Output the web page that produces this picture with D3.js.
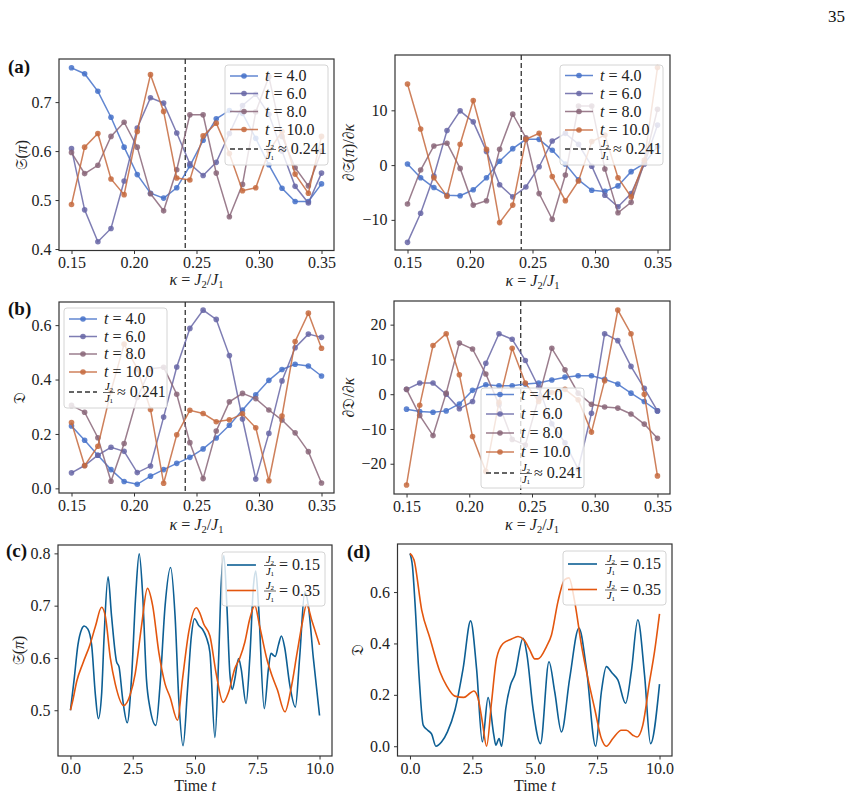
<!DOCTYPE html>
<html>
<head>
<meta charset="utf-8">
<script src="https://cdn.jsdelivr.net/npm/d3@7"></script>
<style>
body { margin: 0; background: #fff; }
</style>
</head>
<body>
<script>
// kappa grid (J2/J1) and marker of the critical point
const kappa = [0.1500,0.1605,0.1711,0.1816,0.1921,0.2026,0.2132,0.2237,0.2342,0.2447,
               0.2553,0.2658,0.2763,0.2868,0.2974,0.3079,0.3184,0.3289,0.3395,0.3500];
const kappaCrit = 0.241;
const tLabels = ["4.0", "6.0", "8.0", "10.0"];
const tColors = ["#4571c9", "#6766a6", "#8a6679", "#c66a3e"];

// (a) left: S(pi) vs kappa
const sigT4  = [0.770,0.758,0.722,0.669,0.608,0.552,0.514,0.504,0.525,0.570,0.622,0.666,0.683,0.677,0.626,0.572,0.524,0.497,0.497,0.533];
const sigT6  = [0.605,0.480,0.415,0.442,0.539,0.647,0.709,0.698,0.637,0.574,0.550,0.577,0.636,0.693,0.716,0.675,0.600,0.528,0.494,0.555];
const sigT8  = [0.597,0.554,0.571,0.630,0.659,0.608,0.513,0.478,0.562,0.674,0.674,0.555,0.466,0.532,0.680,0.752,0.630,0.566,0.529,0.600];
const sigT10 = [0.491,0.608,0.636,0.543,0.511,0.640,0.756,0.681,0.545,0.541,0.631,0.657,0.595,0.519,0.525,0.600,0.640,0.553,0.514,0.630];

// (a) right: dS/dkappa
const dSigT4  = [0.2,-2.3,-4.1,-5.5,-5.6,-4.5,-2.3,0.7,3.0,4.7,4.7,2.7,0.2,-2.7,-4.6,-4.8,-3.8,-1.2,0.3,3.4];
const dSigT6  = [-14.1,-8.8,-2.0,6.3,9.9,7.9,2.5,-3.6,-5.8,-4.0,-0.3,4.4,5.8,3.8,-0.2,-5.5,-7.6,-5.2,0.2,7.3];
const dSigT8  = [-7.1,-0.9,3.5,4.0,-0.6,-7.3,-6.5,2.9,9.3,5.0,-5.2,-9.9,-1.8,10.8,10.8,-0.7,-8.7,-6.8,0.5,10.2];
const dSigT10 = [14.8,6.6,-2.3,-5.7,3.8,11.8,2.9,-10.5,-7.3,4.7,5.8,-2.1,-6.5,-2.9,4.3,5.5,-2.3,-5.8,0.9,17.8];

// (b) left: D vs kappa
const dimT4  = [0.229,0.177,0.122,0.069,0.025,0.015,0.045,0.069,0.092,0.114,0.145,0.185,0.232,0.288,0.344,0.397,0.437,0.456,0.450,0.413];
const dimT6  = [0.057,0.084,0.122,0.151,0.136,0.058,0.082,0.262,0.446,0.588,0.655,0.621,0.488,0.255,0.034,0.202,0.395,0.517,0.567,0.555];
const dimT8  = [0.305,0.280,0.186,0.026,0.165,0.334,0.440,0.445,0.346,0.168,0.036,0.211,0.318,0.349,0.330,0.288,0.251,0.204,0.135,0.020];
const dimT10 = [0.242,0.083,0.155,0.358,0.530,0.440,0.290,0.019,0.197,0.287,0.275,0.245,0.252,0.274,0.223,0.028,0.266,0.540,0.644,0.515];

// (b) right: dD/dkappa
const dDimT4  = [-4.3,-5.0,-5.2,-4.8,-2.8,1.1,2.7,2.4,2.4,2.9,3.2,4.1,4.9,5.3,5.3,4.3,2.9,0.3,-2.1,-4.8];
const dDimT6  = [1.4,3.2,3.2,0.0,-4.2,-2.1,8.9,17.4,15.8,9.7,2.0,-8.5,-14.0,-21.5,-5.5,17.4,15.4,8.0,1.7,-4.8];
const dDimT8  = [1.4,-6.1,-11.9,0.3,14.7,13.0,5.8,-3.0,-13.0,-14.6,-1.0,13.2,7.0,0.3,-2.9,-3.7,-4.0,-5.7,-8.6,-12.7];
const dDimT10 = [-26.1,-3.2,14.0,17.4,5.6,-12.2,-22.2,-2.3,13.2,3.2,-2.1,0.5,1.4,-1.6,-10.9,3.9,24.2,17.4,0.0,-23.5];

// (c) S(pi) vs time, J2/J1 = 0.15 and 0.35
const cTime15 = [0,0.15,0.3,0.45,0.55,0.7,0.85,1.0,1.12,1.25,1.35,1.51,1.65,1.85,1.95,2.1,2.28,2.45,2.62,2.76,
                 2.9,3.05,3.19,3.43,3.6,3.8,4.02,4.2,4.35,4.52,4.7,4.85,4.98,5.15,5.3,5.45,5.6,5.8,5.95,6.05,
                 6.16,6.28,6.4,6.5,6.6,6.75,6.85,7.05,7.2,7.35,7.44,7.55,7.78,7.95,8.05,8.15,8.22,8.35,8.47,8.6,
                 8.8,9.03,9.2,9.41,9.55,9.75,10.0];
const cSig15  = [0.500,0.56,0.625,0.655,0.661,0.655,0.625,0.53,0.484,0.53,0.64,0.755,0.68,0.593,0.583,0.52,0.476,0.56,0.72,0.799,
                 0.72,0.56,0.505,0.471,0.55,0.70,0.773,0.68,0.52,0.432,0.54,0.64,0.675,0.662,0.655,0.64,0.61,0.448,0.60,0.74,
                 0.796,0.70,0.57,0.540,0.56,0.599,0.58,0.513,0.60,0.74,0.766,0.70,0.503,0.58,0.609,0.605,0.603,0.625,0.642,0.62,
                 0.55,0.506,0.60,0.727,0.70,0.60,0.490];
const cTime35 = [0,0.1,0.25,0.5,0.78,1.0,1.25,1.4,1.6,1.8,2.14,2.4,2.6,2.85,3.09,3.3,3.55,3.8,4.0,4.3,
                 4.5,4.75,5.05,5.2,5.35,5.6,5.85,6.13,6.35,6.6,6.8,7.0,7.2,7.4,7.6,7.9,8.1,8.3,8.61,8.85,
                 9.1,9.3,9.48,9.7,10.0];
const cSig35  = [0.500,0.52,0.555,0.59,0.625,0.66,0.697,0.68,0.60,0.55,0.509,0.53,0.57,0.66,0.733,0.70,0.61,0.55,0.525,0.481,
                 0.56,0.65,0.696,0.685,0.665,0.642,0.57,0.515,0.535,0.58,0.60,0.63,0.675,0.700,0.66,0.595,0.565,0.54,0.497,0.54,
                 0.61,0.665,0.702,0.67,0.625];

// (d) D vs time
const dTime15 = [0,0.1,0.2,0.37,0.53,0.7,0.87,1.04,1.27,1.5,1.8,2.13,2.43,2.67,2.9,3.13,3.36,3.44,3.57,3.67,
                 3.84,4.03,4.2,4.53,4.69,4.93,5.23,5.57,5.8,6.07,6.4,6.77,7.07,7.44,7.67,7.87,8.1,8.33,8.64,8.87,
                 9.13,9.4,9.64,10.0];
const dDim15  = [0.75,0.70,0.56,0.264,0.082,0.063,0.047,0.0,0.017,0.056,0.14,0.303,0.488,0.30,0.017,0.189,0.043,0.004,0.03,0.0,
                 0.147,0.238,0.277,0.42,0.355,0.147,0.01,0.329,0.212,0.056,0.264,0.46,0.303,0.0,0.212,0.31,0.285,0.258,0.167,0.29,
                 0.492,0.277,0.01,0.242];
const dTime35 = [0,0.16,0.47,0.8,1.2,1.47,1.8,2.16,2.4,2.56,2.73,2.9,3.07,3.27,3.47,3.73,4.07,4.33,4.57,4.8,
                 5.0,5.13,5.47,5.67,5.93,6.2,6.37,6.6,6.87,7.13,7.4,7.67,7.87,8.13,8.47,8.67,8.93,9.1,9.33,9.6,
                 9.8,10.0];
const dDim35  = [0.75,0.726,0.53,0.42,0.29,0.235,0.195,0.19,0.206,0.215,0.186,0.095,0.0,0.173,0.342,0.40,0.417,0.427,0.414,0.375,
                 0.34,0.34,0.388,0.433,0.563,0.648,0.655,0.563,0.394,0.264,0.147,0.03,0.0,0.03,0.062,0.062,0.043,0.036,0.082,0.251,
                 0.368,0.515];
const jLabels = ["0.15", "0.35"];
const jColors = ["#0d5f94", "#e3560e"];

// ---------------------------------------------------------------
const svg = d3.select("body").append("svg")
    .attr("width", 857).attr("height", 799)
    .style("font-family", "'Liberation Serif','DejaVu Serif',serif");

const FS = 16;
const minusFmt = f => d => (d < 0 ? "\u2212" : "") + d3.format(f)(Math.abs(d));

function makePanel(p) {
    const x = d3.scaleLinear().domain(p.xdom).range([p.left, p.right]);
    const y = d3.scaleLinear().domain(p.ydom).range([p.bottom, p.top]);
    const g = svg.append("g");

    const gx = g.append("g").attr("transform", "translate(0," + p.bottom + ")")
        .call(d3.axisBottom(x).tickValues(p.xticks).tickFormat(p.xfmt).tickSizeOuter(0).tickSizeInner(3.5).tickPadding(3));
    const gy = g.append("g").attr("transform", "translate(" + p.left + ",0)")
        .call(d3.axisLeft(y).tickValues(p.yticks).tickFormat(p.yfmt).tickSizeOuter(0).tickSizeInner(3.5).tickPadding(4));
    [gx, gy].forEach(a => {
        a.attr("font-family", null).attr("font-size", null);
        a.select(".domain").remove();
        a.selectAll("line").attr("stroke", "#333").attr("stroke-width", 1);
        a.selectAll("text").attr("font-size", FS).attr("fill", "#222");
    });

    const plot = g.append("g");
    g.append("rect")
        .attr("x", p.left).attr("y", p.top)
        .attr("width", p.right - p.left).attr("height", p.bottom - p.top)
        .attr("fill", "none").attr("stroke", "#333").attr("stroke-width", 1.2);
    return {g: g, plot: plot, x: x, y: y, p: p};
}

// line + markers for kappa scans
function scanSeries(P, values, color) {
    const line = d3.line().x((d, i) => P.x(kappa[i])).y(d => P.y(d));
    P.plot.append("path").datum(values)
        .attr("d", line).attr("fill", "none")
        .attr("stroke", color).attr("stroke-width", 1.5).attr("stroke-opacity", 0.85);
    P.plot.selectAll(null).data(values).enter().append("circle")
        .attr("cx", (d, i) => P.x(kappa[i])).attr("cy", d => P.y(d))
        .attr("r", 2.8).attr("fill", color).attr("fill-opacity", 0.85);
}

function timeSeries(P, ts, vs, color) {
    const line = d3.line().x(d => P.x(d[0])).y(d => P.y(d[1])).curve(d3.curveMonotoneX);
    P.plot.append("path").datum(d3.zip(ts, vs))
        .attr("d", line).attr("fill", "none")
        .attr("stroke", color).attr("stroke-width", 1.6);
}

function critLine(P) {
    P.plot.append("line")
        .attr("x1", P.x(kappaCrit)).attr("x2", P.x(kappaCrit))
        .attr("y1", P.p.top).attr("y2", P.p.bottom)
        .attr("stroke", "#333").attr("stroke-width", 1.3).attr("stroke-dasharray", "5,3");
}

// J2 over J1 as a small stacked fraction
function fracJ(g, xc, yc) {
    const num = g.append("text").attr("x", xc).attr("y", yc - 2).attr("text-anchor", "middle").attr("font-size", 10.5);
    num.append("tspan").attr("font-style", "italic").text("J");
    num.append("tspan").attr("font-size", 7).attr("dy", 1.5).text("2");
    g.append("line").attr("x1", xc - 6).attr("x2", xc + 6).attr("y1", yc + 0.5).attr("y2", yc + 0.5)
        .attr("stroke", "#222").attr("stroke-width", 0.7);
    const den = g.append("text").attr("x", xc).attr("y", yc + 9.5).attr("text-anchor", "middle").attr("font-size", 10.5);
    den.append("tspan").attr("font-style", "italic").text("J");
    den.append("tspan").attr("font-size", 7).attr("dy", 1.5).text("1");
}

function legendFrame(P, x, y, w, h) {
    return P.g.append("g").call(l => l.append("rect")
        .attr("x", x).attr("y", y).attr("width", w).attr("height", h).attr("rx", 3)
        .attr("fill", "#fff").attr("fill-opacity", 0.8).attr("stroke", "#d4d4d4").attr("stroke-width", 1));
}

function scanLegend(P, x, y, rows) {
    const L = legendFrame(P, x, y, 103, 100);
    tLabels.forEach((t, i) => {
        const yc = y + rows[i];
        L.append("line").attr("x1", x + 5).attr("x2", x + 33).attr("y1", yc).attr("y2", yc)
            .attr("stroke", tColors[i]).attr("stroke-width", 1.5).attr("stroke-opacity", 0.85);
        L.append("circle").attr("cx", x + 19).attr("cy", yc).attr("r", 2.8)
            .attr("fill", tColors[i]).attr("fill-opacity", 0.85);
        const tx = L.append("text").attr("x", x + 40).attr("y", yc + 5).attr("font-size", FS).attr("fill", "#222");
        tx.append("tspan").attr("font-style", "italic").text("t");
        tx.append("tspan").text(" = " + t);
    });
    const yc = y + rows[4];
    L.append("line").attr("x1", x + 5).attr("x2", x + 33).attr("y1", yc).attr("y2", yc)
        .attr("stroke", "#333").attr("stroke-width", 1.3).attr("stroke-dasharray", "5,3");
    fracJ(L, x + 45, yc);
    L.append("text").attr("x", x + 53).attr("y", yc + 5).attr("font-size", FS).attr("fill", "#222")
        .text("\u2248 " + kappaCrit.toFixed(3));
}

function timeLegend(P, x, y) {
    const L = legendFrame(P, x, y, 103, 54);
    jLabels.forEach((j, i) => {
        const yc = y + 13 + i * 25.5;
        L.append("line").attr("x1", x + 5).attr("x2", x + 34).attr("y1", yc).attr("y2", yc)
            .attr("stroke", jColors[i]).attr("stroke-width", 1.6);
        fracJ(L, x + 48, yc);
        L.append("text").attr("x", x + 57).attr("y", yc + 5).attr("font-size", FS).attr("fill", "#222")
            .text("= " + j);
    });
}

function kappaLabel(P, yb) {
    const t = P.g.append("text").attr("x", (P.p.left + P.p.right) / 2).attr("y", yb)
        .attr("text-anchor", "middle").attr("font-size", FS).attr("fill", "#222");
    t.append("tspan").attr("font-style", "italic").text("\u03ba");
    t.append("tspan").text(" = ");
    t.append("tspan").attr("font-style", "italic").text("J");
    t.append("tspan").attr("font-size", 10.5).attr("dy", 3).text("2");
    t.append("tspan").attr("dy", -3).text("/");
    t.append("tspan").attr("font-style", "italic").text("J");
    t.append("tspan").attr("font-size", 10.5).attr("dy", 3).text("1");
}

function timeLabel(P, yb) {
    const t = P.g.append("text").attr("x", (P.p.left + P.p.right) / 2).attr("y", yb)
        .attr("text-anchor", "middle").attr("font-size", FS).attr("fill", "#222");
    t.append("tspan").text("Time ");
    t.append("tspan").attr("font-style", "italic").text("t");
}

// parts: array of [text, italic]
function yLabel(P, xb, parts) {
    const t = P.g.append("text")
        .attr("transform", "translate(" + xb + "," + (P.p.top + P.p.bottom) / 2 + ") rotate(-90)")
        .attr("text-anchor", "middle").attr("font-size", FS).attr("fill", "#222");
    parts.forEach(pt => t.append("tspan").attr("font-style", pt[1] ? "italic" : null).text(pt[0]));
}

function panelTag(x, y, s) {
    svg.append("text").attr("x", x).attr("y", y).attr("font-size", 19).attr("font-weight", "bold")
        .attr("fill", "#111").text(s);
}

const kTicks = [0.15, 0.20, 0.25, 0.30, 0.35];
const tTicks = [0, 2.5, 5, 7.5, 10];

// ---- (a) left
const A1 = makePanel({left: 59, right: 334, top: 59, bottom: 250.5, xdom: [0.14, 0.36], ydom: [0.397, 0.788],
    xticks: kTicks, yticks: [0.4, 0.5, 0.6, 0.7], xfmt: d3.format(".2f"), yfmt: d3.format(".1f")});
critLine(A1);
[sigT4, sigT6, sigT8, sigT10].forEach((s, i) => scanSeries(A1, s, tColors[i]));
scanLegend(A1, 225, 65, [11, 28.5, 46.5, 64.5, 84]);
kappaLabel(A1, 285);
yLabel(A1, 27, [["\ud835\udd16", false], ["(", false], ["\u03c0", true], [")", false]]);

// ---- (a) right
const A2 = makePanel({left: 395, right: 670, top: 55, bottom: 250, xdom: [0.14, 0.36], ydom: [-15.5, 20.1],
    xticks: kTicks, yticks: [-10, 0, 10], xfmt: d3.format(".2f"), yfmt: minusFmt("d")});
critLine(A2);
[dSigT4, dSigT6, dSigT8, dSigT10].forEach((s, i) => scanSeries(A2, s, tColors[i]));
scanLegend(A2, 560, 65, [10.5, 28.5, 46.5, 65, 84]);
kappaLabel(A2, 286);
yLabel(A2, 354, [["\u2202\ud835\udd16", false], ["(", false], ["\u03c0", true], [")/\u2202", false], ["\u03ba", true]]);

// ---- (b) left
const B1 = makePanel({left: 59, right: 334, top: 302, bottom: 493, xdom: [0.14, 0.36], ydom: [-0.017, 0.685],
    xticks: kTicks, yticks: [0, 0.2, 0.4, 0.6], xfmt: d3.format(".2f"), yfmt: d3.format(".1f")});
critLine(B1);
[dimT4, dimT6, dimT8, dimT10].forEach((s, i) => scanSeries(B1, s, tColors[i]));
scanLegend(B1, 64, 308, [11, 28.5, 46, 64, 84]);
kappaLabel(B1, 530);
yLabel(B1, 25, [["\ud835\udd07", false]]);

// ---- (b) right
const B2 = makePanel({left: 394, right: 670, top: 301, bottom: 494, xdom: [0.14, 0.36], ydom: [-28.7, 26.8],
    xticks: kTicks, yticks: [-20, -10, 0, 10, 20], xfmt: d3.format(".2f"), yfmt: minusFmt("d")});
critLine(B2);
[dDimT4, dDimT6, dDimT8, dDimT10].forEach((s, i) => scanSeries(B2, s, tColors[i]));
scanLegend(B2, 481, 388, [6.5, 26, 45, 64, 85]);
kappaLabel(B2, 530);
yLabel(B2, 354, [["\u2202\ud835\udd07/\u2202", false], ["\u03ba", true]]);

// ---- (c)
const C = makePanel({left: 58, right: 332, top: 545, bottom: 756, xdom: [-0.5, 10.5], ydom: [0.4125, 0.816],
    xticks: tTicks, yticks: [0.5, 0.6, 0.7, 0.8], xfmt: d3.format(".1f"), yfmt: d3.format(".1f")});
timeSeries(C, cTime15, cSig15, jColors[0]);
timeSeries(C, cTime35, cSig35, jColors[1]);
timeLegend(C, 222, 552);
timeLabel(C, 791);
yLabel(C, 24, [["\ud835\udd16", false], ["(", false], ["\u03c0", true], [")", false]]);

// ---- (d)
const D = makePanel({left: 397.5, right: 672, top: 544, bottom: 756, xdom: [-0.5, 10.5], ydom: [-0.038, 0.787],
    xticks: tTicks, yticks: [0, 0.2, 0.4, 0.6], xfmt: d3.format(".1f"), yfmt: d3.format(".1f")});
timeSeries(D, dTime15, dDim15, jColors[0]);
timeSeries(D, dTime35, dDim35, jColors[1]);
timeLegend(D, 563, 551);
timeLabel(D, 791);
yLabel(D, 363, [["\ud835\udd07", false]]);

// panel tags and page number
panelTag(8, 73, "(a)");
panelTag(8, 315, "(b)");
panelTag(6, 557, "(c)");
panelTag(347, 558, "(d)");
svg.append("text").attr("x", 845).attr("y", 22).attr("text-anchor", "end")
    .attr("font-size", 17).attr("fill", "#111").text("35");
</script>
</body>
</html>
